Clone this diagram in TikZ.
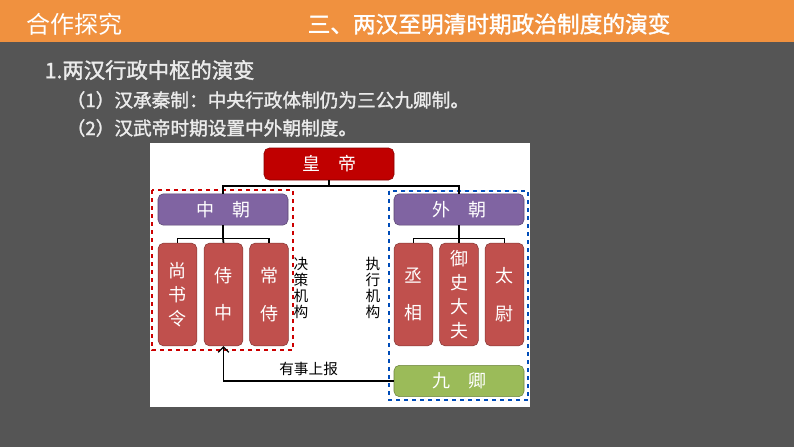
\documentclass[tikz,border=0pt]{standalone}
\usepackage{fontspec}
\setmainfont{Noto Sans CJK SC}
\newfontfamily\cjkb{Noto Sans CJK SC}[FakeBold=1.5]
\usetikzlibrary{arrows.meta}
\definecolor{bg}{HTML}{555555}
\definecolor{org}{HTML}{F0913F}
\definecolor{emp}{HTML}{C00000}
\definecolor{pur}{HTML}{8064A2}
\definecolor{rbox}{HTML}{C0504D}
\definecolor{grn}{HTML}{9BBB59}
\tikzset{
 box/.style={rounded corners=4pt,draw=#1!70!black,fill=#1,text=white,inner sep=0pt,font=\fontsize{13.5}{14}\selectfont},
 tall/.style={box=rbox,minimum width=29pt,minimum height=77pt,align=center,font=\fontsize{13.5}{18}\selectfont},
 wide/.style={box=#1,minimum width=97.5pt,minimum height=23.5pt},
 conn/.style={line width=1.3pt,black},
 vtxt/.style={align=center,font=\fontsize{11}{12}\selectfont,inner sep=0pt}
}
\begin{document}
\begin{tikzpicture}[x=0.75pt,y=-0.75pt]
\fill[bg] (0,0) rectangle (794,447);
\fill[org] (0,0) rectangle (794,42);
\node[anchor=west,text=white,font=\fontsize{18}{20}\selectfont] (t1) at (22,24) {合作探究};
\node[anchor=west,text=white,font=\cjkb\fontsize{17}{20}\selectfont] (t2) at (303,24) {三、两汉至明清时期政治制度的演变};
\node[anchor=west,text=white!92!black,font=\cjkb\fontsize{16}{18}\selectfont] (l1) at (40,70) {1.两汉行政中枢的演变};
\node[anchor=west,text=white!92!black,font=\cjkb\fontsize{14}{16}\selectfont] (l2) at (62,100) {（1）汉承秦制：中央行政体制仍为三公九卿制。};
\node[anchor=west,text=white!92!black,font=\cjkb\fontsize{14}{16}\selectfont] (l3) at (62,128) {（2）汉武帝时期设置中外朝制度。};
\fill[white] (150,143) rectangle (530,407);
\draw[red!80!black,dashed,line width=0.9pt] (152,190) rectangle (293,350);
\draw[blue!60!black!70!cyan,dashed,line width=0.9pt] (389,191) rectangle (528,400);
\node[box=emp,minimum width=97.5pt,minimum height=24pt] (hd) at (329,164) {皇\quad 帝};
\node[wide=pur] (zc) at (223,209.5) {中\quad 朝};
\node[wide=pur] (wc) at (459,209.5) {外\quad 朝};
\node[tall] (a1) at (177.5,294.5) {尚\\书\\令};
\node[tall] (a2) at (223.5,294.5) {侍\\[10pt]中};
\node[tall] (a3) at (269,294.5) {常\\[10pt]侍};
\node[tall] (b1) at (413.5,294.5) {丞\\[10pt]相};
\node[tall] (b2) at (459,294.5) {御\\史\\大\\夫};
\node[tall] (b3) at (504.5,294.5) {太\\[10pt]尉};
\node[wide=grn] (jq) at (459,381) {九\quad 卿};
\node[vtxt] (v1) at (301,288) {决\\策\\机\\构};
\node[vtxt] (v2) at (373,288) {执\\行\\机\\构};
\draw[conn] (hd.south) -- ++(0,6) coordinate (h1);
\draw[conn] (zc.north) |- (h1) -| (wc.north);
\draw[conn] (zc.south) -- ++(0,13) coordinate (z1);
\draw[conn] (a1.north) |- (z1) -| (a3.north);
\draw[conn] (z1) -- (a2.north);
\draw[conn] (wc.south) -- ++(0,13) coordinate (w1);
\draw[conn] (b1.north) |- (w1) -| (b3.north);
\draw[conn] (w1) -- (b2.north);
\draw[line width=1pt,-{Straight Barb[length=4pt]}] (jq.west) -| (a2.south)
  node[pos=0.25,above,font=\fontsize{11}{12}\selectfont] {有事上报};
\end{tikzpicture}
\end{document}
